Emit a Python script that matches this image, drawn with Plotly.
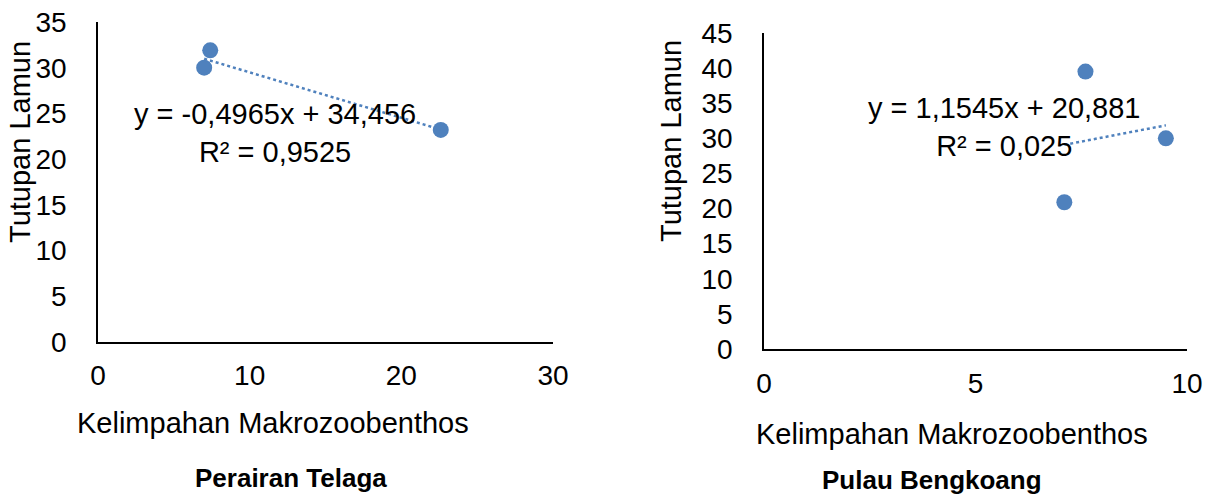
import plotly.graph_objects as go

# ---- data ----
telaga_x = [7.4, 7.0, 22.6]
telaga_y = [31.9, 30.0, 23.2]
telaga_slope = -0.4965
telaga_intercept = 34.456
telaga_eq = "y = -0,4965x + 34,456"
telaga_r2 = "R² = 0,9525"

bengkoang_x = [7.6, 9.5, 7.1]
bengkoang_y = [39.5, 30.0, 20.9]
bengkoang_slope = 1.1545
bengkoang_intercept = 20.881
bengkoang_eq = "y = 1,1545x + 20,881"
bengkoang_r2 = "R² = 0,025"

x_title = "Kelimpahan Makrozoobenthos"
y_title = "Tutupan Lamun"
caption_left = "Perairan Telaga"
caption_right = "Pulau Bengkoang"

# ---- styling ----
W, H = 1214, 495
FONT = "Liberation Sans, Arial, sans-serif"
BLUE = "#4F81BD"
FS_TICK = 28
FS_TEXT = 29
FS_CAP = 26


def px(x):
    return x / W


def py(y):
    return 1 - y / H


fig = go.Figure()


def add_panel(xs, ys, slope, intercept, xa, ya):
    fig.add_trace(go.Scatter(
        x=xs, y=ys, mode="markers", xaxis=xa, yaxis=ya,
        marker=dict(color=BLUE, size=16, line=dict(width=0)),
        showlegend=False, hoverinfo="x+y"))
    x0, x1 = min(xs), max(xs)
    fig.add_trace(go.Scatter(
        x=[x0, x1], y=[slope * x0 + intercept, slope * x1 + intercept],
        mode="lines", xaxis=xa, yaxis=ya,
        line=dict(color=BLUE, width=2.5, dash="dot"),
        showlegend=False, hoverinfo="skip"))


add_panel(telaga_x, telaga_y, telaga_slope, telaga_intercept, "x", "y")
add_panel(bengkoang_x, bengkoang_y, bengkoang_slope, bengkoang_intercept, "x2", "y2")

axis_common = dict(
    showgrid=False, zeroline=False, showline=True, linecolor="#000000",
    linewidth=1.5, ticks="", automargin=False, ticklabeloverflow="allow",
    tickfont=dict(family=FONT, size=FS_TICK, color="#000000"),
    fixedrange=True)

fig.update_layout(
    width=W, height=H,
    margin=dict(l=0, r=0, t=0, b=0, autoexpand=False),
    paper_bgcolor="white", plot_bgcolor="white",
    font=dict(family=FONT, size=FS_TEXT, color="#000000"),
    xaxis=dict(domain=[px(98), px(553)], range=[0, 30], dtick=10, anchor="y",
               ticklabelstandoff=8, **axis_common),
    yaxis=dict(domain=[py(342), py(22)], range=[0, 35], dtick=5, anchor="x",
               ticklabelstandoff=24, **axis_common),
    xaxis2=dict(domain=[px(764), px(1187)], range=[0, 10], dtick=5, anchor="y2",
                ticklabelstandoff=9, **axis_common),
    yaxis2=dict(domain=[py(349), py(33)], range=[0, 45], dtick=5, anchor="x2",
                ticklabelstandoff=24, **axis_common),
)

ann = []


def text(x, y, s, size=FS_TEXT, bold=False, angle=0):
    ann.append(dict(
        x=px(x), y=py(y), xref="paper", yref="paper", text=(f"<b>{s}</b>" if bold else s),
        showarrow=False, xanchor="center", yanchor="middle", textangle=angle,
        font=dict(family=FONT, size=size, color="#000000"), align="center"))


# axis titles
text(20, 142, y_title, angle=-90)
text(273, 423, x_title)
text(671, 141, y_title, angle=-90)
text(952, 434, x_title)
# captions
text(291, 478, caption_left, size=FS_CAP, bold=True)
text(932, 480, caption_right, size=FS_CAP, bold=True)
# equations
text(275, 133, telaga_eq + "<br>" + telaga_r2)
text(1004, 127, bengkoang_eq + "<br>" + bengkoang_r2)

fig.update_layout(annotations=ann)

fig.write_html(
    "out.html",
    config={"displayModeBar": False},
    post_script="document.body.style.margin='0';document.body.style.overflow='hidden';",
)
